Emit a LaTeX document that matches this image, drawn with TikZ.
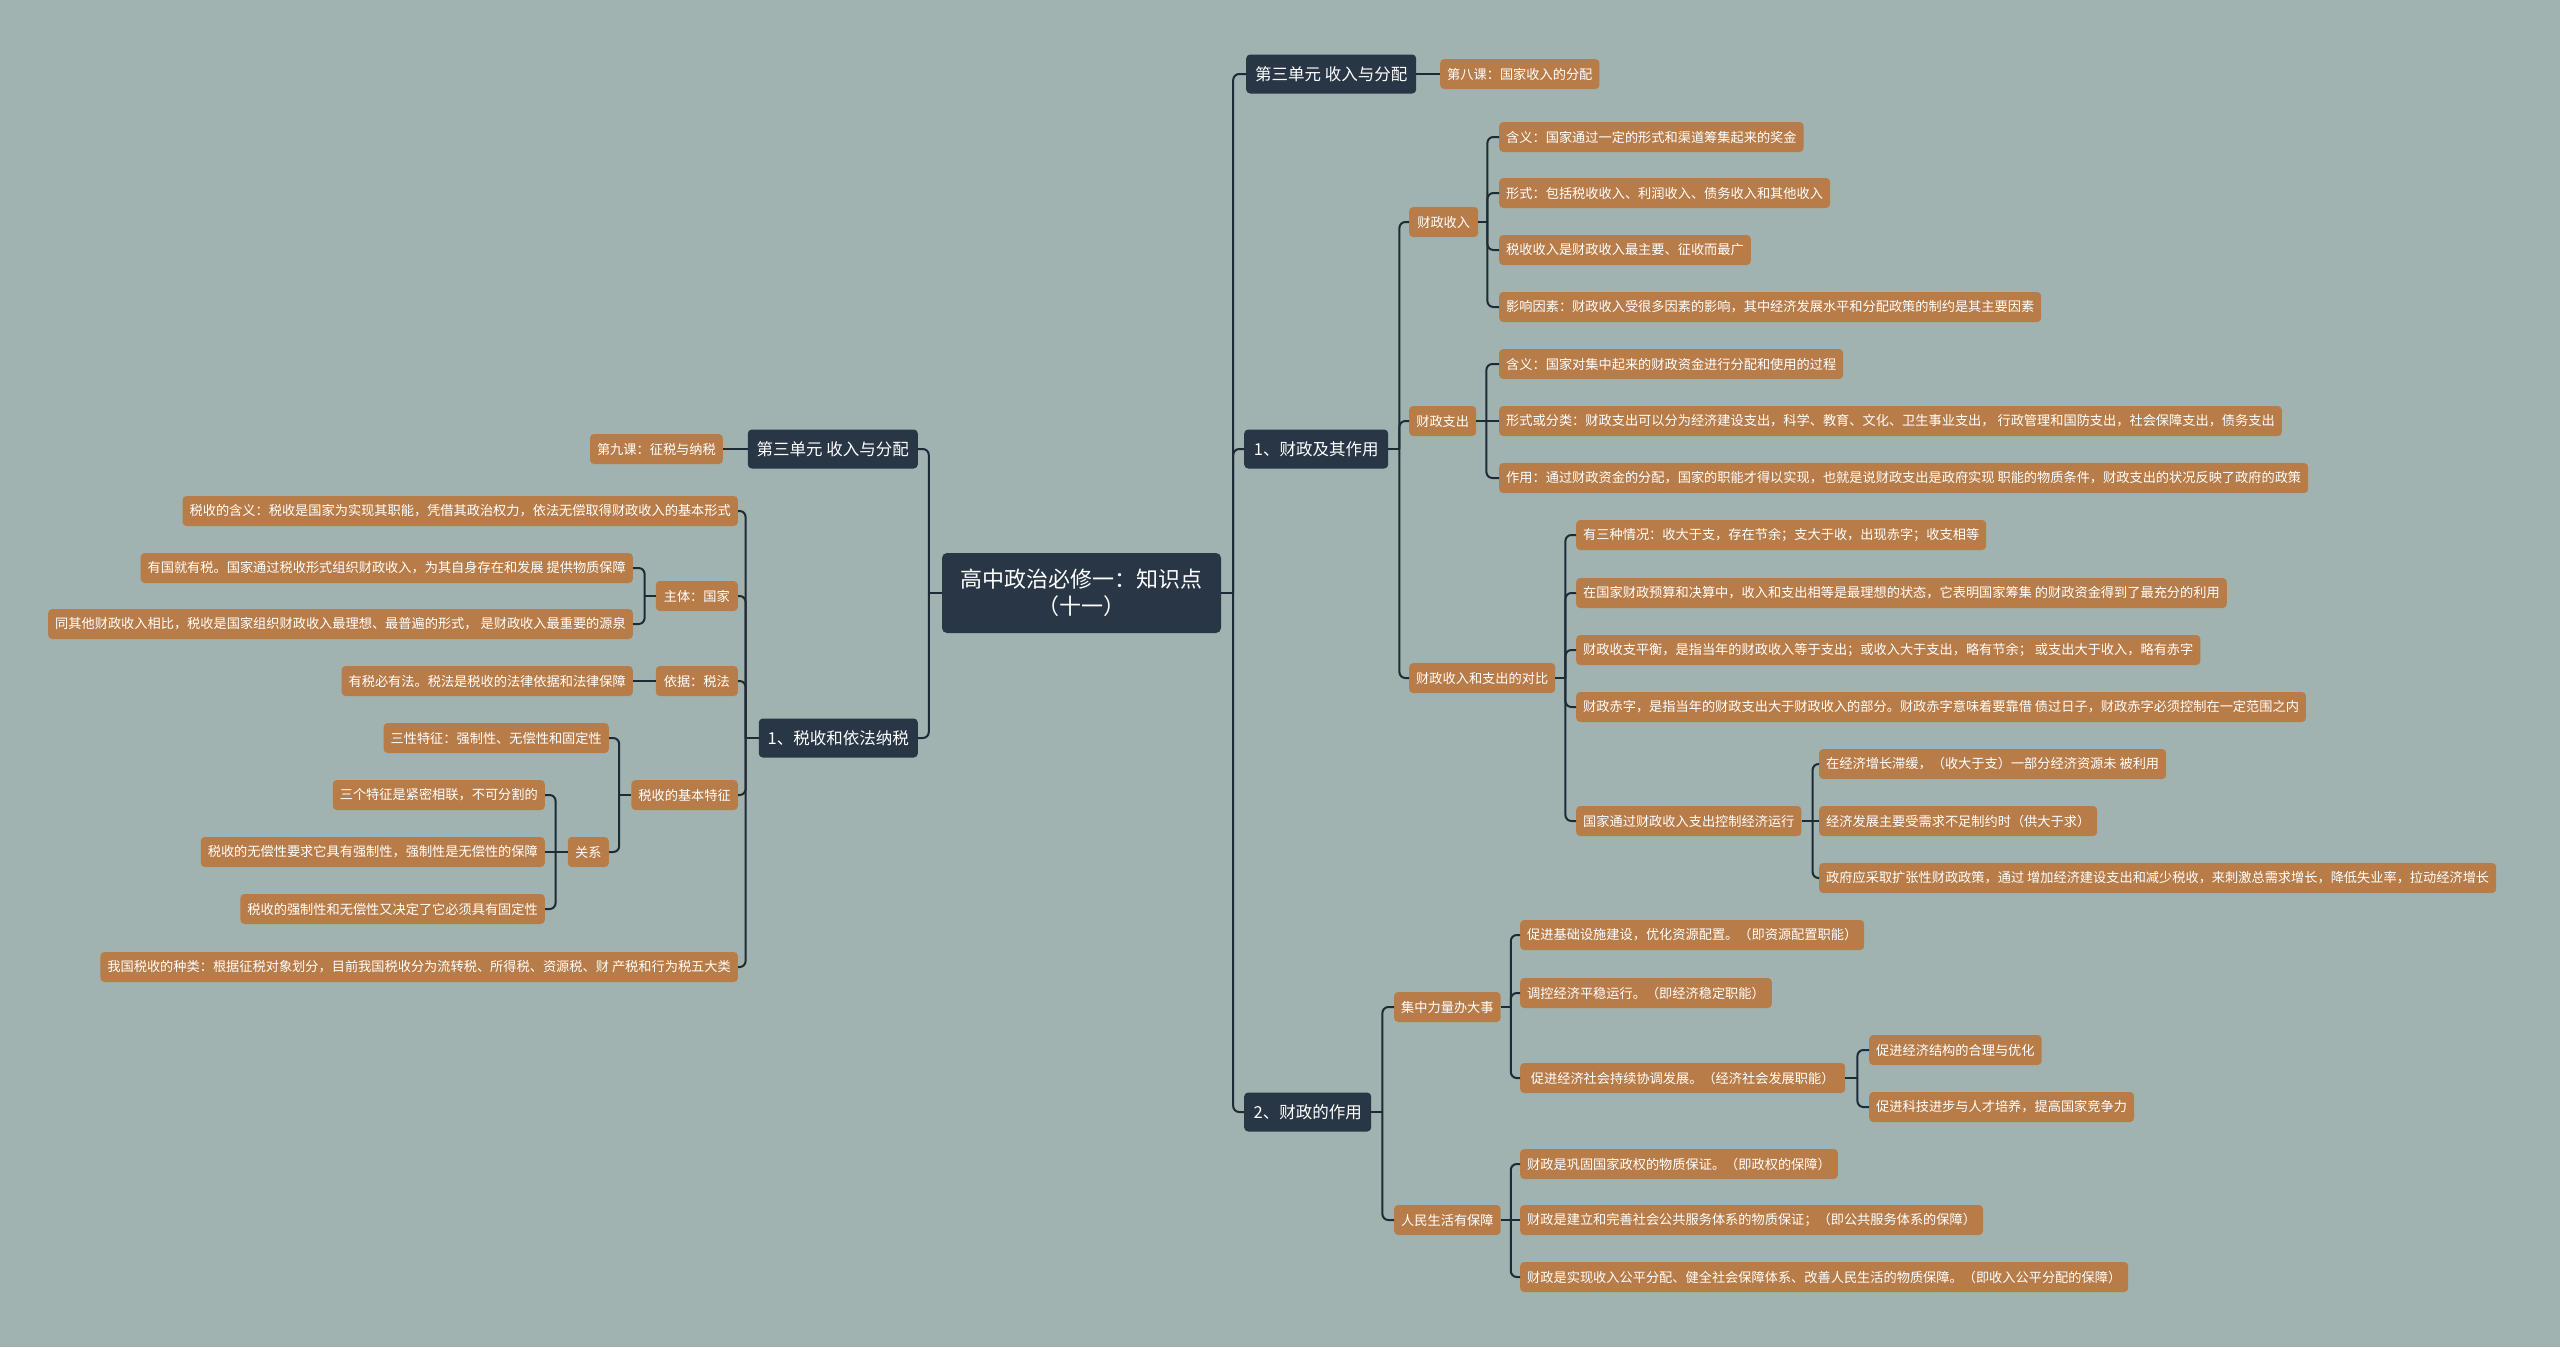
\documentclass[tikz,border=0pt]{standalone}
\usepackage{fontspec}
\setmainfont{Noto Sans CJK SC}
\definecolor{bgc}{RGB}{160,179,176}
\definecolor{orangec}{RGB}{184,124,73}
\definecolor{darkc}{RGB}{40,54,69}
\definecolor{linec}{RGB}{30,42,54}
\begin{document}
\begin{tikzpicture}[x=1pt,y=-1pt,
  conn/.style={draw=linec,line width=2pt},
  jn/.style={conn,rounded corners=6pt},
  dark/.style={fill=darkc,text=white,rounded corners=4pt,font=\fontsize{16.5}{20}\selectfont,minimum height=39pt,inner xsep=8pt,inner ysep=2pt},
  leaf/.style={fill=orangec,text=white,rounded corners=4pt,font=\fontsize{13.2}{16}\selectfont,minimum height=30pt,inner xsep=7pt,inner ysep=2pt},
  rootbox/.style={fill=darkc,text=white,rounded corners=5pt,font=\fontsize{22}{27}\selectfont,minimum width=279pt,minimum height=80pt,align=center}
]
\fill[bgc] (0,0) rectangle (2560,1347);
\useasboundingbox (0,0) rectangle (2560,1347);

% root
\node[rootbox] (root) at (1081.5,593) {高中政治必修一：知识点\\（十一）};

% level 1
\node[dark,anchor=west,minimum width=170pt] (R1) at (1246,74) {第三单元 收入与分配};
\node[dark,anchor=west,minimum width=144pt] (R2) at (1244,449) {1、财政及其作用};
\node[dark,anchor=west,minimum width=127pt] (R3) at (1244,1112) {2、财政的作用};
\node[dark,anchor=east,minimum width=170pt] (L1) at (918,449) {第三单元 收入与分配};
\node[dark,anchor=east,minimum width=159pt] (L2) at (918,738) {1、税收和依法纳税};

% right: R1
\node[leaf,anchor=west] (a1) at (1440,74) {第八课：国家收入的分配};

% right: R2
\node[leaf,anchor=west,minimum width=69pt] (b1) at (1409,222) {财政收入};
\node[leaf,anchor=west,minimum width=67pt] (b2) at (1409,421) {财政支出};
\node[leaf,anchor=west,minimum width=145pt] (b3) at (1409,678) {财政收入和支出的对比};

\node[leaf,anchor=west] (c1) at (1499,137) {含义：国家通过一定的形式和渠道筹集起来的奖金};
\node[leaf,anchor=west] (c2) at (1499,193) {形式：包括税收收入、利润收入、债务收入和其他收入};
\node[leaf,anchor=west] (c3) at (1499,250) {税收收入是财政收入最主要、征收而最广};
\node[leaf,anchor=west] (c4) at (1499,307) {影响因素：财政收入受很多因素的影响，其中经济发展水平和分配政策的制约是其主要因素};

\node[leaf,anchor=west] (d1) at (1499,364) {含义：国家对集中起来的财政资金进行分配和使用的过程};
\node[leaf,anchor=west] (d2) at (1499,421) {形式或分类：财政支出可以分为经济建设支出，科学、教育、文化、卫生事业支出， 行政管理和国防支出，社会保障支出，债务支出};
\node[leaf,anchor=west] (d3) at (1499,478) {作用：通过财政资金的分配，国家的职能才得以实现，也就是说财政支出是政府实现 职能的物质条件，财政支出的状况反映了政府的政策};

\node[leaf,anchor=west] (e1) at (1576,535) {有三种情况：收大于支，存在节余；支大于收，出现赤字；收支相等};
\node[leaf,anchor=west] (e2) at (1576,593) {在国家财政预算和决算中，收入和支出相等是最理想的状态，它表明国家筹集 的财政资金得到了最充分的利用};
\node[leaf,anchor=west] (e3) at (1576,650) {财政收支平衡，是指当年的财政收入等于支出；或收入大于支出，略有节余； 或支出大于收入，略有赤字};
\node[leaf,anchor=west] (e4) at (1576,707) {财政赤字，是指当年的财政支出大于财政收入的部分。财政赤字意味着要靠借 债过日子，财政赤字必须控制在一定范围之内};
\node[leaf,anchor=west,minimum width=220pt] (e5) at (1576,821) {国家通过财政收入支出控制经济运行};

\node[leaf,anchor=west] (f1) at (1819,764) {在经济增长滞缓，（收大于支）一部分经济资源未 被利用};
\node[leaf,anchor=west] (f2) at (1819,821) {经济发展主要受需求不足制约时（供大于求）};
\node[leaf,anchor=west] (f3) at (1819,878) {政府应采取扩张性财政政策，通过 增加经济建设支出和减少税收，来刺激总需求增长，降低失业率，拉动经济增长};

% right: R3
\node[leaf,anchor=west,minimum width=105pt] (g1) at (1394,1007) {集中力量办大事};
\node[leaf,anchor=west,minimum width=105pt] (g2) at (1394,1220) {人民生活有保障};

\node[leaf,anchor=west] (h1) at (1520,935) {促进基础设施建设，优化资源配置。（即资源配置职能）};
\node[leaf,anchor=west] (h2) at (1520,993) {调控经济平稳运行。（即经济稳定职能）};
\node[leaf,anchor=west,minimum width=325pt] (h3) at (1520,1078) {促进经济社会持续协调发展。（经济社会发展职能）};
\node[leaf,anchor=west] (i1) at (1869,1050) {促进经济结构的合理与优化};
\node[leaf,anchor=west] (i2) at (1869,1107) {促进科技进步与人才培养，提高国家竞争力};

\node[leaf,anchor=west] (k1) at (1520,1164) {财政是巩固国家政权的物质保证。（即政权的保障）};
\node[leaf,anchor=west] (k2) at (1520,1220) {财政是建立和完善社会公共服务体系的物质保证；（即公共服务体系的保障）};
\node[leaf,anchor=west] (k3) at (1520,1277) {财政是实现收入公平分配、健全社会保障体系、改善人民生活的物质保障。（即收入公平分配的保障）};

% left: L1
\node[leaf,anchor=east] (m1) at (723,449) {第九课：征税与纳税};

% left: L2
\node[leaf,anchor=east] (n1) at (738,511) {税收的含义：税收是国家为实现其职能，凭借其政治权力，依法无偿取得财政收入的基本形式};
\node[leaf,anchor=east,minimum width=82pt] (n2) at (738,596) {主体：国家};
\node[leaf,anchor=east,minimum width=82pt] (n3) at (738,681) {依据：税法};
\node[leaf,anchor=east,minimum width=106pt] (n4) at (738,795) {税收的基本特征};
\node[leaf,anchor=east] (n5) at (738,967) {我国税收的种类：根据征税对象划分，目前我国税收分为流转税、所得税、资源税、财 产税和行为税五大类};

\node[leaf,anchor=east] (o1) at (633,568) {有国就有税。国家通过税收形式组织财政收入，为其自身存在和发展 提供物质保障};
\node[leaf,anchor=east] (o2) at (633,624) {同其他财政收入相比，税收是国家组织财政收入最理想、最普遍的形式， 是财政收入最重要的源泉};
\node[leaf,anchor=east] (p1) at (633,681) {有税必有法。税法是税收的法律依据和法律保障};

\node[leaf,anchor=east] (q1) at (609,738) {三性特征：强制性、无偿性和固定性};
\node[leaf,anchor=east,minimum width=41pt] (q2) at (609,852) {关系};
\node[leaf,anchor=east] (r1) at (545,795) {三个特征是紧密相联，不可分割的};
\node[leaf,anchor=east] (r2) at (545,852) {税收的无偿性要求它具有强制性，强制性是无偿性的保障};
\node[leaf,anchor=east] (r3) at (545,909) {税收的强制性和无偿性又决定了它必须具有固定性};

% ---------- connectors ----------
\draw[conn] (root.east) -- ++(12,0) coordinate (rootR);
\draw[jn] (rootR) |- (R1.west);
\draw[jn] (rootR) |- (R2.west);
\draw[jn] (rootR) |- (R3.west);
\draw[conn] (root.west) -- ++(-13,0) coordinate (rootL);
\draw[jn] (rootL) |- (L1.east);
\draw[jn] (rootL) |- (L2.east);

\draw[conn] (R1.east) -- (a1.west);

\draw[conn] (R2.east) -- ++(11,0) coordinate (R2j);
\draw[jn] (R2j) |- (b1.west);
\draw[jn] (R2j) |- (b2.west);
\draw[jn] (R2j) |- (b3.west);

\draw[conn] (b1.east) -- ++(9,0) coordinate (b1j);
\draw[jn] (b1j) |- (c1.west);
\draw[jn] (b1j) |- (c2.west);
\draw[jn] (b1j) |- (c3.west);
\draw[jn] (b1j) |- (c4.west);

\draw[conn] (b2.east) -- ++(10,0) coordinate (b2j);
\draw[jn] (b2j) |- (d1.west);
\draw[conn] (b2.east) -- (d2.west);
\draw[jn] (b2j) |- (d3.west);

\draw[conn] (b3.east) -- ++(10,0) coordinate (b3j);
\draw[jn] (b3j) |- (e1.west);
\draw[jn] (b3j) |- (e2.west);
\draw[jn] (b3j) |- (e3.west);
\draw[jn] (b3j) |- (e4.west);
\draw[jn] (b3j) |- (e5.west);

\draw[conn] (e5.east) -- ++(11,0) coordinate (e5j);
\draw[jn] (e5j) |- (f1.west);
\draw[conn] (e5.east) -- (f2.west);
\draw[jn] (e5j) |- (f3.west);

\draw[conn] (R3.east) -- ++(11,0) coordinate (R3j);
\draw[jn] (R3j) |- (g1.west);
\draw[jn] (R3j) |- (g2.west);

\draw[conn] (g1.east) -- ++(10,0) coordinate (g1j);
\draw[jn] (g1j) |- (h1.west);
\draw[jn] (g1j) |- (h2.west);
\draw[jn] (g1j) |- (h3.west);

\draw[conn] (h3.east) -- ++(12,0) coordinate (h3j);
\draw[jn] (h3j) |- (i1.west);
\draw[jn] (h3j) |- (i2.west);

\draw[conn] (g2.east) -- ++(10,0) coordinate (g2j);
\draw[jn] (g2j) |- (k1.west);
\draw[conn] (g2.east) -- (k2.west);
\draw[jn] (g2j) |- (k3.west);

\draw[conn] (L1.west) -- (m1.east);

\draw[conn] (L2.west) -- ++(-13,0) coordinate (L2j);
\draw[jn] (L2j) |- (n1.east);
\draw[jn] (L2j) |- (n2.east);
\draw[jn] (L2j) |- (n3.east);
\draw[jn] (L2j) |- (n4.east);
\draw[jn] (L2j) |- (n5.east);

\draw[conn] (n2.west) -- ++(-11,0) coordinate (n2j);
\draw[jn] (n2j) |- (o1.east);
\draw[jn] (n2j) |- (o2.east);

\draw[conn] (n3.west) -- (p1.east);

\draw[conn] (n4.west) -- ++(-12,0) coordinate (n4j);
\draw[jn] (n4j) |- (q1.east);
\draw[jn] (n4j) |- (q2.east);

\draw[conn] (q2.west) -- ++(-12,0) coordinate (q2j);
\draw[jn] (q2j) |- (r1.east);
\draw[conn] (q2.west) -- (r2.east);
\draw[jn] (q2j) |- (r3.east);
\end{tikzpicture}
\end{document}
